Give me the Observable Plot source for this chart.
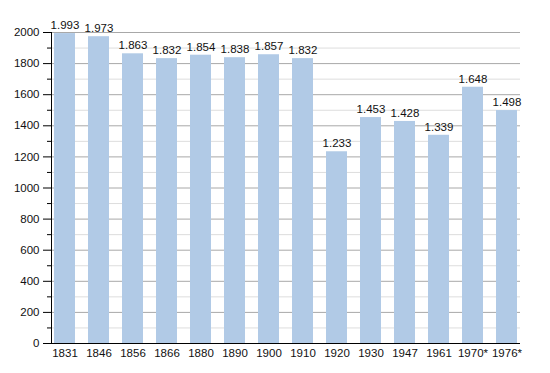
<!DOCTYPE html>
<html><head><meta charset="utf-8">
<script src="https://cdn.jsdelivr.net/npm/d3@7"></script>
<script src="https://cdn.jsdelivr.net/npm/@observablehq/plot@0.6"></script>
<style>body{margin:0;background:#fff}svg{font-family:"Liberation Sans",Arial,sans-serif}</style>
</head><body><div id="chart"></div>
<script>
const years = ["1831","1846","1856","1866","1880","1890","1900","1910","1920","1930","1947","1961","1970*","1976*"];
const population = [1993,1973,1863,1832,1854,1838,1857,1832,1233,1453,1428,1339,1648,1498];
const majorTicks = [0,200,400,600,800,1000,1200,1400,1600,1800,2000];
const minorTicks = [100,300,500,700,900,1100,1300,1500,1700,1900];

const data = years.map((y,i)=>({year:y, value:population[i]}));
const fmt = v => d3.format(",")(v).replace(",",".");

const chart = Plot.plot({
  width: 550, height: 373,
  marginLeft: 51, marginRight: 30, marginTop: 32, marginBottom: 30,
  style: {fontFamily: '"Liberation Sans", Arial, sans-serif', fontSize: "11.5px", color: "#000"},
  x: {domain: years, paddingInner: 0.39, paddingOuter: 0.0, align: 0.5, label: null},
  y: {domain: [0, 2000], label: null},
  marks: [
    Plot.gridY(minorTicks, {stroke: "#dddddd", strokeOpacity: 1}),
    Plot.gridY(majorTicks.filter(d=>d>0), {stroke: "#a8a8a8", strokeOpacity: 1}),
    Plot.barY(data, {x: "year", y: "value", fill: "#b1cae6"}),
    Plot.text(data, {x: "year", y: "value", text: d => fmt(d.value), dy: -8, fontSize: 11.5, fill: "#111"}),
    Plot.axisY(majorTicks, {tickSize: 8, tickPadding: 4, stroke: "#000", fontSize: 11.5, fill: "#111", tickFormat: d => String(d), label: null}),
    Plot.axisY(minorTicks, {tickSize: 4, stroke: "#000", text: null, label: null}),
    Plot.axisX({tickSize: 0, tickPadding: 5, fontSize: 11.5, fill: "#111", label: null}),
    Plot.ruleY([0], {stroke: "#000"}),
    Plot.frame({anchor: "left", stroke: "#000"})
  ]
});
document.getElementById("chart").append(chart);
</script></body></html>
